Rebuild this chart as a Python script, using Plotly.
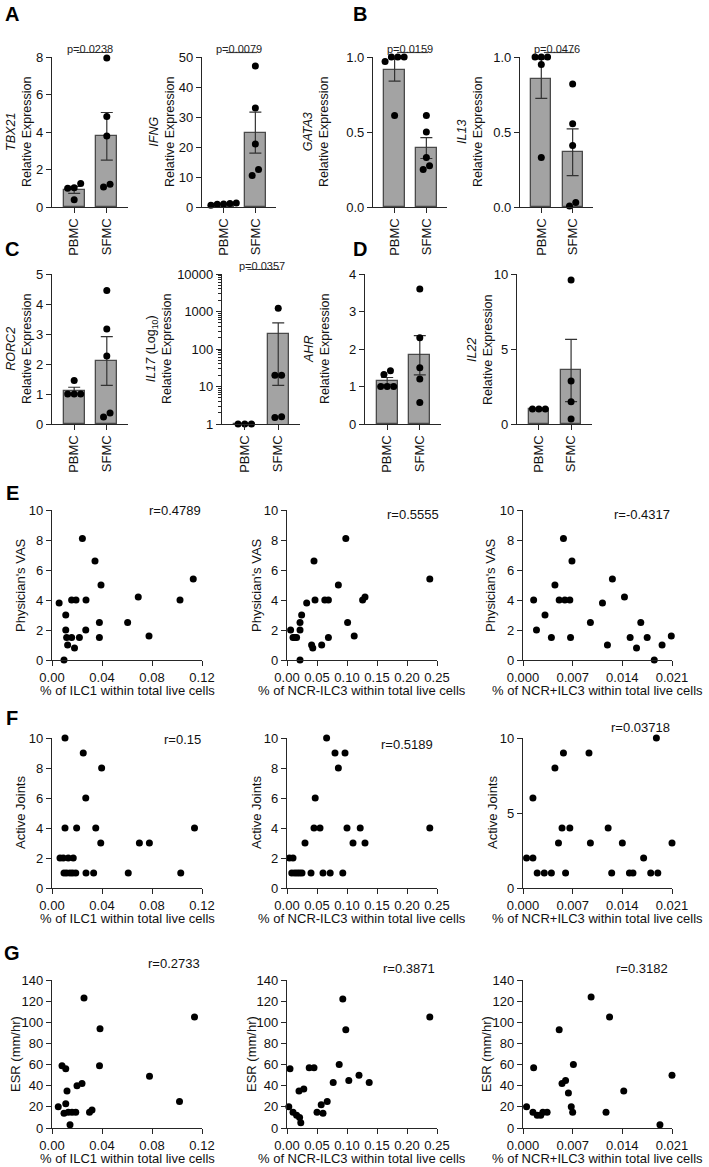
import numpy as np
import plotly.graph_objects as go

W, H = 709, 1167

# ---------------- data: bar panels ----------------
groups = ["PBMC", "SFMC"]
tbx21_pbmc = [1.25, 1.0, 1.02, 0.38]
tbx21_sfmc = [7.95, 4.82, 3.79, 1.07, 1.21]
ifng_pbmc = [1.3, 0.6, 1.0, 0.9, 1.2]
ifng_sfmc = [47, 33, 21, 10.5, 12.5]
gata3_pbmc = [1.0, 1.0, 1.0, 0.97, 0.61]
gata3_sfmc = [0.61, 0.50, 0.33, 0.25, 0.275]
il13_pbmc = [1.0, 1.0, 1.0, 0.95, 0.33]
il13_sfmc = [0.82, 0.555, 0.41, 0.007, 0.03]
rorc2_pbmc = [1.45, 1.0, 1.0, 1.0]
rorc2_sfmc = [4.45, 3.17, 2.27, 0.23, 0.37]
il17_pbmc = [1, 1, 1]
il17_sfmc = [1230, 20, 20, 1.5, 1.55]
ahr_pbmc = [1.42, 1.32, 1.0, 1.0, 1.0]
ahr_sfmc = [3.6, 2.3, 1.5, 1.2, 0.57]
il22_pbmc = [1.0, 1.0, 1.0]
il22_sfmc = [9.6, 2.87, 1.49, 0.33]

# ---------------- data: correlation panels ----------------
e1_x = [0.0057, 0.0096, 0.011, 0.011, 0.0117, 0.0125, 0.0157, 0.018, 0.0219, 0.027, 0.0379, 0.0379,
        0.0605, 0.0776, 0.1024, 0.0157, 0.0192, 0.0272, 0.069, 0.0243, 0.0344, 0.0392, 0.113]
e1_y = [3.8, 0, 3.0, 2.0, 1.5, 1.0, 1.5, 0.8, 1.5, 2.0, 2.5, 1.5, 2.5, 1.6, 4.0, 4.0, 4.0, 4.0, 4.2,
        8.1, 6.6, 5.0, 5.4]
e2_x = [0.006, 0.010, 0.013, 0.016, 0.0217, 0.0217, 0.0244, 0.0217, 0.0328, 0.041, 0.043, 0.0467,
        0.0578, 0.063, 0.069, 0.069, 0.101, 0.112, 0.126, 0.13, 0.045, 0.098, 0.0856, 0.238]
e2_y = [2.0, 1.5, 1.5, 1.5, 2.0, 2.5, 3.0, 0, 3.8, 1.0, 0.8, 4.0, 1.0, 4.0, 4.0, 1.5, 2.5, 1.6, 4.0,
        4.2, 6.6, 8.1, 5.0, 5.4]
e3_x = [0.0015, 0.0019, 0.0031, 0.004, 0.0051, 0.0059, 0.0066, 0.0067, 0.0095, 0.0112, 0.0119,
        0.0143, 0.0151, 0.016, 0.0166, 0.0175, 0.0185, 0.0196, 0.0209, 0.0057, 0.0069, 0.0045, 0.0126]
e3_y = [4.0, 2.0, 3.0, 1.5, 4.0, 4.0, 4.0, 1.5, 2.5, 3.8, 1.0, 4.2, 1.5, 0.8, 2.5, 1.5, 0, 1.0, 1.6,
        8.1, 6.6, 5.0, 5.4]

f1_x = [0.0064, 0.009, 0.013, 0.017, 0.0096, 0.0117, 0.0144, 0.0165, 0.019, 0.0104, 0.0197, 0.0272,
        0.0333, 0.035, 0.039, 0.061, 0.0699, 0.0779, 0.103, 0.114, 0.027, 0.0104, 0.025, 0.0397]
f1_y = [2, 2, 2, 2, 1, 1, 1, 1, 1, 4, 4, 1, 1, 4, 3, 1, 3, 3, 1, 4, 6, 10, 9, 8]
f2_x = [0.004, 0.008, 0.010, 0.013, 0.017, 0.021, 0.025, 0.045, 0.055, 0.047, 0.06, 0.066, 0.072,
        0.08, 0.0856, 0.0967, 0.093, 0.1, 0.11, 0.122, 0.13, 0.238, 0.03, 0.04]
f2_y = [2, 1, 2, 1, 1, 1, 1, 4, 4, 6, 1, 10, 1, 9, 8, 9, 1, 4, 3, 4, 3, 4, 3, 1]
f3_x = [0.0005, 0.0014, 0.0014, 0.002, 0.003, 0.004, 0.0045, 0.005, 0.0057, 0.0055, 0.006, 0.0066,
        0.0093, 0.0095, 0.012, 0.0125, 0.014, 0.015, 0.0155, 0.017, 0.018, 0.0188, 0.019, 0.021]
f3_y = [2, 2, 6, 1, 1, 1, 8, 3, 9, 4, 1, 4, 9, 3, 4, 1, 3, 1, 1, 2, 1, 10, 1, 3]

g1_x = [0.005, 0.008, 0.011, 0.0096, 0.012, 0.013, 0.016, 0.0144, 0.019, 0.02, 0.024, 0.0256, 0.03,
        0.032, 0.038, 0.0384, 0.078, 0.102, 0.114, 0.011]
g1_y = [20, 59, 56, 14, 35, 15, 15, 3, 15, 40, 42, 123, 15, 17, 59, 94, 49, 25, 105, 23]
g2_x = [0.003, 0.005, 0.01, 0.016, 0.021, 0.023, 0.028, 0.037, 0.045, 0.05, 0.057, 0.06, 0.067,
        0.077, 0.087, 0.093, 0.098, 0.103, 0.12, 0.137, 0.238, 0.02]
g2_y = [20, 56, 15, 12, 10, 5, 37, 57, 57, 15, 22, 14, 25, 43, 60, 122, 93, 45, 50, 43, 105, 35]
g3_x = [0.0005, 0.0015, 0.0014, 0.002, 0.0028, 0.0034, 0.0051, 0.0055, 0.006, 0.0064, 0.0068,
        0.0071, 0.007, 0.0096, 0.0117, 0.0122, 0.0142, 0.0193, 0.021, 0.0025]
g3_y = [20, 57, 15, 12, 15, 15, 93, 42, 45, 33, 20, 60, 15, 124, 15, 105, 35, 3, 50, 12]

r_values = ["r=0.4789", "r=0.5555", "r=-0.4317",
            "r=0.15", "r=0.5189", "r=0.03718",
            "r=0.2733", "r=0.3871", "r=0.3182"]

# ---------------- style ----------------
FONT = "Liberation Sans, Arial, sans-serif"
AXC = "#262626"
BAR_FILL = "#a3a3a3"
BAR_LINE = "#4a4a4a"
TXT = "#111"

fig = go.Figure()
count = [0]

base_axis = dict(showline=True, linecolor=AXC, linewidth=1.2, ticks="outside", ticklen=5,
                 tickwidth=1.2, tickcolor=AXC, showgrid=False, zeroline=False, automargin=False,
                 tickfont=dict(size=13, color=TXT, family=FONT), fixedrange=True)


def new_axes(x0, x1, ytop, ybot, xopts, yopts):
    count[0] += 1
    n = count[0]
    sx = "" if n == 1 else str(n)
    xa, ya = "xaxis" + sx, "yaxis" + sx
    xr, yr = "x" + sx, "y" + sx
    xd = dict(base_axis); xd.update(domain=[x0 / W, x1 / W], anchor=yr); xd.update(xopts)
    yd = dict(base_axis); yd.update(domain=[1 - ybot / H, 1 - ytop / H], anchor=xr); yd.update(yopts)
    fig.update_layout(**{xa: xd, ya: yd})
    return xr, yr


def swarm(vals, cat, to_px, diam=7.0, step_cat=0.2):
    order = np.argsort(vals)
    v = np.asarray(vals, float)
    pos = np.zeros(len(v))
    groups_ = []
    cur = [order[0]]
    for i in order[1:]:
        if abs(to_px(v[i]) - to_px(v[cur[-1]])) < diam * 0.9:
            cur.append(i)
        else:
            groups_.append(cur); cur = [i]
    groups_.append(cur)
    for g in groups_:
        k = len(g)
        for j, idx in enumerate(g):
            pos[idx] = cat + (j - (k - 1) / 2) * step_cat
    return pos


def ytitle(text, xc, ytop, ybot, size=13):
    fig.add_annotation(xref="paper", yref="paper", x=xc / W, y=1 - (ytop + ybot) / 2 / H,
                       xanchor="center", yanchor="middle", textangle=-90, showarrow=False,
                       text=text, font=dict(size=size, family=FONT, color=TXT))


def bar_panel(x0, x1, ytop, ybot, gene, pb, sf, yrange, dtick, title_x, ptext=None, log=False,
              extra_title="", yfmt=None):
    if log:
        decades = [10 ** k for k in range(int(yrange[0]), int(yrange[1]) + 1)]
        minors = [m * d for d in decades[:-1] for m in range(2, 10)]
        yopts = dict(type="log", range=yrange, tickvals=decades, ticktext=[str(d) for d in decades],
                     minor=dict(tickvals=minors, ticks="outside", ticklen=3, tickwidth=0.8,
                                tickcolor=AXC, showgrid=False))
    else:
        yopts = dict(range=yrange, dtick=dtick)
        if yfmt:
            yopts["tickformat"] = yfmt
    xr, yr = new_axes(x0, x1, ytop, ybot,
                      dict(range=[-0.68, 1.65], tickvals=[0, 1], ticktext=groups, tickangle=-90),
                      yopts)
    data = [np.asarray(pb, float), np.asarray(sf, float)]
    means = [d.mean() for d in data]
    sems = [d.std(ddof=1) / np.sqrt(len(d)) for d in data]
    fig.add_trace(go.Bar(x=[0, 1], y=means, width=0.64, xaxis=xr, yaxis=yr,
                         marker=dict(color=BAR_FILL, line=dict(color=BAR_LINE, width=1.3)),
                         error_y=dict(type="data", array=sems, color="#333", thickness=1.2, width=6),
                         showlegend=False, hoverinfo="skip"))
    span = ybot - ytop
    if log:
        to_px = lambda v: np.log10(max(v, 1e-9)) / (yrange[1] - yrange[0]) * span
    else:
        to_px = lambda v: v / (yrange[1] - yrange[0]) * span
    for c, d in enumerate(data):
        xs = swarm(d, c, to_px)
        fig.add_trace(go.Scatter(x=xs, y=d, mode="markers", xaxis=xr, yaxis=yr, cliponaxis=False,
                                 marker=dict(color="black", size=7), showlegend=False,
                                 hoverinfo="skip"))
    ytitle(f"<i>{gene}</i>{extra_title}<br>Relative Expression", title_x, ytop, ybot, size=12.5)
    if ptext:
        yline = 1.03
        fig.add_shape(type="line", xref=xr, yref=yr + " domain", x0=0.08, x1=1.05, y0=yline,
                      y1=yline, line=dict(color="#444", width=1.2))
        fig.add_annotation(xref=xr, yref=yr + " domain", x=0.5, y=yline, yanchor="bottom",
                           showarrow=False, text=ptext, yshift=-4,
                           font=dict(size=11, family=FONT, color="#222"))


# Row A/B
bar_panel(52, 128, 57, 207, "TBX21", tbx21_pbmc, tbx21_sfmc, [0, 8], 2, 19, "p=0.0238")
bar_panel(202, 276, 57, 207, "IFNG", ifng_pbmc, ifng_sfmc, [0, 50], 10, 162, "p=0.0079")
bar_panel(373, 447, 57, 207, "GATA3", gata3_pbmc, gata3_sfmc, [0, 1.0], 0.5, 316, "p=0.0159",
          yfmt=".1f")
bar_panel(520, 593, 57, 207, "IL13", il13_pbmc, il13_sfmc, [0, 1.0], 0.5, 470, "p=0.0476",
          yfmt=".1f")
# Row C/D
bar_panel(52, 128, 274, 424, "RORC2", rorc2_pbmc, rorc2_sfmc, [0, 5], 1, 19)
bar_panel(222, 300, 274, 424, "IL17", il17_pbmc, il17_sfmc, [0, 4], None, 159, "p=0.0357",
          log=True, extra_title=" (Log<sub>10</sub>)")
bar_panel(365, 441, 274, 424, "AHR", ahr_pbmc, ahr_sfmc, [0, 4], 1, 317)
bar_panel(517, 592, 274, 424, "IL22", il22_pbmc, il22_sfmc, [0, 10], 5, 480)

# ---------------- scatter panels ----------------
cols = [(52, 202), (287, 437), (523, 672)]
rows = [(510, 660), (738, 888), (980, 1128)]
ytitle_x = [[20, 256, 490], [20, 256, 492], [15, 251, 486]]
xinfo = [
    ("% of ILC1 within total live cells", [0, 0.12], 0.04, ".2f"),
    ("% of NCR-ILC3 within total live cells", [0, 0.25], 0.05, ".2f"),
    ("% of NCR+ILC3 within total live cells", [0, 0.021], 0.007, ".3f"),
]
yinfo = [("Physician's VAS", [0, 10], 2), ("Active Joints", [0, 10], 2), ("ESR (mm/hr)", [0, 140], 20)]
sdata = [[(e1_x, e1_y), (e2_x, e2_y), (e3_x, e3_y)],
         [(f1_x, f1_y), (f2_x, f2_y), (f3_x, f3_y)],
         [(g1_x, g1_y), (g2_x, g2_y), (g3_x, g3_y)]]
rpos = [[(0.82, 1.0), (0.84, 0.967), (0.80, 0.967)],
        [(0.87, 0.993), (0.80, 0.96), (0.79, 1.067)],
        [(0.81, 1.11), (0.81, 1.08), (0.80, 1.08)]]

for ri, (ytop, ybot) in enumerate(rows):
    ytxt, yrng, ydt = yinfo[ri]
    for ci, (x0, x1) in enumerate(cols):
        xtitle, xrng, xdt, xfmt = xinfo[ci]
        dt = 5 if (ri == 1 and ci == 2) else ydt
        xr, yr = new_axes(x0, x1, ytop, ybot,
                          dict(range=xrng, dtick=xdt, tickformat=xfmt),
                          dict(range=yrng, dtick=dt))
        xs, ys = sdata[ri][ci]
        fig.add_trace(go.Scatter(x=xs, y=ys, mode="markers", xaxis=xr, yaxis=yr, cliponaxis=False,
                                 marker=dict(color="black", size=7), showlegend=False,
                                 hoverinfo="skip"))
        ytitle(ytxt, ytitle_x[ri][ci], ytop, ybot)
        fig.add_annotation(xref="paper", yref="paper", x=(x0 + x1) / 2 / W, y=1 - (ybot + 30) / H,
                           xanchor="center", yanchor="middle", showarrow=False, text=xtitle,
                           font=dict(size=13, family=FONT, color=TXT))
        rx, ry = rpos[ri][ci]
        fig.add_annotation(xref=xr + " domain", yref=yr + " domain", x=rx, y=ry,
                           xanchor="center", yanchor="middle", showarrow=False,
                           text=r_values[ri * 3 + ci], font=dict(size=13, family=FONT, color=TXT))

# panel letters
for letter, lx, ly in [("A", 12, 14), ("B", 360, 14), ("C", 12, 249), ("D", 360, 249),
                       ("E", 12, 493), ("F", 12, 718), ("G", 12, 953)]:
    fig.add_annotation(xref="paper", yref="paper", x=lx / W, y=1 - ly / H, xanchor="center",
                       yanchor="middle", showarrow=False, text=f"<b>{letter}</b>",
                       font=dict(size=20, family=FONT, color="black"))

fig.update_layout(width=W, height=H, margin=dict(l=0, r=0, t=0, b=0),
                  paper_bgcolor="white", plot_bgcolor="white",
                  font=dict(family=FONT, color=TXT), bargap=0, showlegend=False)

fig.write_html("out.html", config={"displayModeBar": False},
               post_script="document.body.style.margin='0px';document.body.style.padding='0px';")
